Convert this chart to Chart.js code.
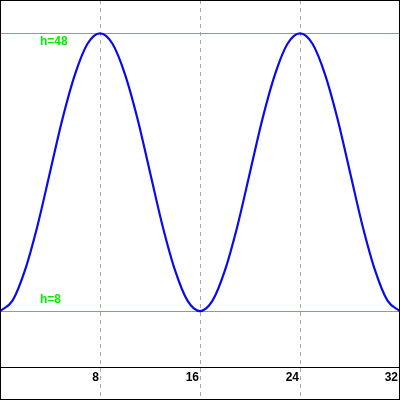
<!DOCTYPE html>
<html>
<head>
<meta charset="utf-8">
<script src="https://cdn.jsdelivr.net/npm/chart.js@4"></script>
<style>
  html, body { margin: 0; padding: 0; background: #fff; }
  #wrap { width: 400px; height: 400px; }
</style>
</head>
<body>
<div id="wrap"><canvas id="myChart" width="400" height="400"></canvas></div>
<script>
// positions along x (units), and heights
let xs = [0, 1, 2, 3, 4, 5, 6, 7, 8, 9, 10, 11, 12, 13, 14, 15, 16,
          17, 18, 19, 20, 21, 22, 23, 24, 25, 26, 27, 28, 29, 30, 31, 32];
let hs = [8, 9.5, 13.9, 20.3, 28, 35.7, 42.1, 46.5, 48, 46.5, 42.1, 35.7, 28, 20.3, 13.9, 9.5, 8,
          9.5, 13.9, 20.3, 28, 35.7, 42.1, 46.5, 48, 46.5, 42.1, 35.7, 28, 20.3, 13.9, 9.5, 8];
let xTicks = [8, 16, 24, 32];
let refLevels = [48, 8];
let refLabels = ['h=48', 'h=8'];

let points = xs.map((x, i) => ({x: x, y: hs[i]}));

let overlay = {
    id: 'overlay',
    beforeDatasetsDraw(chart) {
        let ctx = chart.ctx;
        let xS = chart.scales.x, yS = chart.scales.y;
        ctx.save();
        // dashed vertical grid
        ctx.strokeStyle = '#aaaaaa';
        ctx.lineWidth = 1;
        ctx.setLineDash([4, 4]);
        xTicks.forEach(v => {
            let px = Math.round(xS.getPixelForValue(v)) + 0.5;
            ctx.beginPath();
            ctx.moveTo(px, 0);
            ctx.lineTo(px, 400);
            ctx.stroke();
        });
        ctx.setLineDash([]);
        // baseline h=0
        let y0 = Math.round(yS.getPixelForValue(0)) + 0.5;
        ctx.strokeStyle = '#000';
        ctx.beginPath();
        ctx.moveTo(0, y0);
        ctx.lineTo(400, y0);
        ctx.stroke();
        // reference levels
        ctx.strokeStyle = '#33dd33';
        ctx.fillStyle = '#00ee00';
        ctx.font = "bold 12px 'Liberation Sans'";
        refLevels.forEach((v, i) => {
            let py = Math.round(yS.getPixelForValue(v)) + 0.5;
            ctx.beginPath();
            ctx.moveTo(0, py);
            ctx.lineTo(400, py);
            ctx.stroke();
            ctx.textAlign = 'left';
            if (i == 0) {
                ctx.textBaseline = 'top';
                ctx.fillText(refLabels[i], 40, py + 2);
            } else {
                ctx.textBaseline = 'bottom';
                ctx.fillText(refLabels[i], 40, py - 6);
            }
        });
        // x tick labels
        ctx.fillStyle = '#000';
        ctx.textAlign = 'right';
        ctx.textBaseline = 'top';
        xTicks.forEach(v => {
            let px = xS.getPixelForValue(v);
            ctx.fillText(String(v), Math.min(px - 1, 398), y0 + 4);
        });
        ctx.restore();
    },
    afterDraw(chart) {
        let ctx = chart.ctx;
        ctx.save();
        ctx.strokeStyle = '#000';
        ctx.lineWidth = 1;
        ctx.strokeRect(0.5, 0.5, 399, 399);
        ctx.restore();
    }
};

let myChart = new Chart(document.getElementById('myChart').getContext('2d'), {
    type: 'line',
    data: {
        datasets: [{
            data: points,
            borderColor: '#0a0af0',
            borderWidth: 2.2,
            pointRadius: 0,
            fill: false,
            cubicInterpolationMode: 'monotone'
        }]
    },
    options: {
        responsive: false,
        animation: false,
        layout: { padding: 0 },
        plugins: { legend: { display: false }, tooltip: { enabled: false } },
        scales: {
            x: { type: 'linear', min: 0, max: 32, display: false },
            y: { min: -4.8, max: 52.8, display: false }
        }
    },
    plugins: [overlay]
});
</script>
</body>
</html>
